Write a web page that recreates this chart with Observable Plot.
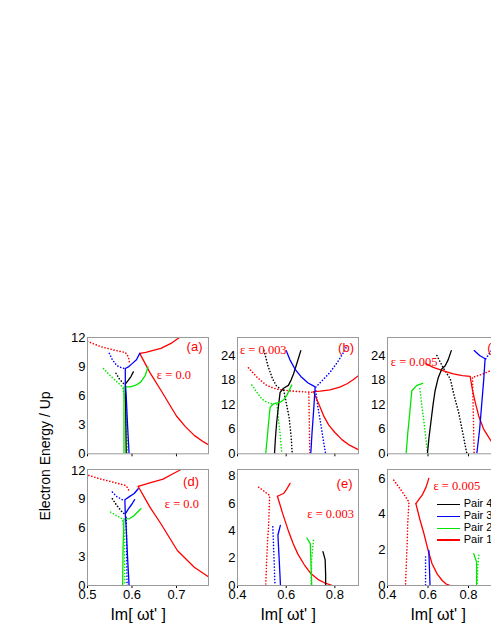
<!DOCTYPE html>
<html><head><meta charset="utf-8">
<script src="https://cdn.jsdelivr.net/npm/d3@7"></script>
<script src="https://cdn.jsdelivr.net/npm/@observablehq/plot@0.6"></script>
<style>
body{margin:0;background:#fff;}
#wrap{position:relative;width:491px;height:635px;overflow:hidden;font-family:"Liberation Sans",Arial,sans-serif;}
.panel{position:absolute;overflow:visible;}
.lbl{position:absolute;white-space:nowrap;color:#000;}
.leg{position:absolute;font-size:11px;white-space:nowrap;}
.leg span.ln{display:inline-block;width:23px;height:1.3px;vertical-align:middle;margin-right:4px;}
</style></head><body><div id="wrap"></div>
<script>
// ---- data ----
const pairs = ["Pair 4", "Pair 3", "Pair 2", "Pair 1"];
const pairColors = ["#000000", "#0000ff", "#00e600", "#ff0000"];
const panelTags = ["(a)", "(b)", "(c)", "(d)", "(e)", "(f)"];
const epsLabels = ["ε = 0.0", "ε = 0.003", "ε = 0.005", "ε = 0.0", "ε = 0.003", "ε = 0.005"];
const xLabel = "Im[ ωt' ]";
const yLabel = "Electron Energy / Up";

const xDomains = [[0.5, 0.772], [0.4, 0.897], [0.4, 0.9975]];
const xTicks = [[0.5, 0.6, 0.7], [0.4, 0.6, 0.8], [0.4, 0.6, 0.8, 1.0]];
const yDomains = [[0, 12], [0, 28.4], [0, 28.4], [0, 12.1], [0, 8.5], [0, 6.5]];
const yTicks = [[0, 3, 6, 9, 12], [0, 6, 12, 18, 24], [0, 6, 12, 18, 24], [0, 3, 6, 9, 12], [0, 2, 4, 6, 8], [0, 2, 4, 6]];

// each curve: [pair, style, points [x, y]]
const curvesA = [
  ["Pair 1", "solid", [[0.6175,10.36],[0.631,10.47],[0.665,10.88],[0.69,11.45],[0.705,11.95],[0.72,12.4]]],
  ["Pair 1", "solid", [[0.6175,10.36],[0.64,8.4],[0.665,6.56],[0.70,3.9],[0.72,2.8],[0.74,1.9],[0.76,1.25],[0.775,0.85]]],
  ["Pair 1", "dotted", [[0.5,11.6],[0.53,11.05],[0.56,10.7],[0.585,10.45],[0.592,10.0],[0.594,9.5]]],
  ["Pair 4", "solid", [[0.587,0],[0.586,4],[0.585,7.2],[0.592,7.6],[0.598,8.0],[0.603,8.45]]],
  ["Pair 4", "dotted", [[0.564,8.3],[0.572,7.7],[0.58,7.3],[0.585,7.1]]],
  ["Pair 2", "solid", [[0.582,0],[0.582,4],[0.582,6.9],[0.597,6.9],[0.61,7.1],[0.62,7.42],[0.63,8.1],[0.636,8.97]]],
  ["Pair 2", "dotted", [[0.536,8.8],[0.548,8.2],[0.562,7.6],[0.579,6.9],[0.587,5],[0.589,2],[0.59,0]]],
  ["Pair 3", "solid", [[0.5935,0],[0.59,3],[0.587,6],[0.585,7.3],[0.585,8.8],[0.593,9.0],[0.601,9.33],[0.61,9.7],[0.6175,10.36]]],
  ["Pair 3", "dotted", [[0.549,10.36],[0.556,9.7],[0.566,9.1],[0.578,8.85],[0.585,8.8]]]
];
const curvesB = [
  ["Pair 1", "solid", [[0.712,15.2],[0.74,15.3],[0.78,15.6],[0.82,16.3],[0.85,17.1],[0.875,18.1],[0.897,19.1]]],
  ["Pair 1", "solid", [[0.712,15.2],[0.725,13.4],[0.739,11.4],[0.756,9.0],[0.775,7.0],[0.8,5.2],[0.83,3.4],[0.86,2.1],[0.897,1.0]]],
  ["Pair 1", "dotted", [[0.445,21.0],[0.48,18.7],[0.52,16.7],[0.56,15.8],[0.602,15.45],[0.65,15.2],[0.709,15.0]]],
  ["Pair 1", "dotted", [[0.693,14.6],[0.695,7],[0.697,0]]],
  ["Pair 4", "solid", [[0.552,0],[0.556,4],[0.561,7.7],[0.568,11.5],[0.575,15.0],[0.589,16.0],[0.609,16.7],[0.62,18.0],[0.63,19.5],[0.645,22.3],[0.66,25.2]]],
  ["Pair 4", "dotted", [[0.509,25.2],[0.525,21.5],[0.544,18.3],[0.56,16.6],[0.575,15.9]]],
  ["Pair 4", "dotted", [[0.59,15.5],[0.6,12.5],[0.612,8.9],[0.62,4.5],[0.625,0]]],
  ["Pair 2", "solid", [[0.516,0],[0.523,4.5],[0.53,9],[0.534,11.4],[0.548,12.2],[0.575,12.6],[0.59,13.2],[0.602,14.2],[0.623,16.8]]],
  ["Pair 2", "dotted", [[0.459,16.8],[0.48,15.0],[0.5,13.4],[0.52,12.6],[0.541,12.2]]],
  ["Pair 2", "dotted", [[0.562,12.0],[0.568,8.5],[0.575,5],[0.582,0]]],
  ["Pair 3", "solid", [[0.6,25.2],[0.615,23.0],[0.636,20.7],[0.66,18.9],[0.69,17.3],[0.712,16.6],[0.719,16.25],[0.712,10],[0.706,5],[0.701,0]]],
  ["Pair 3", "dotted", [[0.722,16.3],[0.75,18.0],[0.78,19.9],[0.81,22.3],[0.84,25.2],[0.85,26.5]]],
  ["Pair 3", "dotted", [[0.722,15.3],[0.73,11.5],[0.742,7.3],[0.752,3.5],[0.762,0]]]
];
const curvesC = [
  ["Pair 1", "solid", [[0.589,22.0],[0.626,21.1],[0.68,20.2],[0.725,19.5],[0.77,19.1],[0.808,18.9],[0.82,15.5],[0.833,12.6],[0.85,9.3],[0.874,6.1],[0.9,4.0],[0.916,2.8],[0.95,1.3]]],
  ["Pair 1", "dotted", [[0.82,18.5],[0.824,9],[0.828,0]]],
  ["Pair 1", "dotted", [[0.83,18.8],[0.87,19.5],[0.92,20.5]]],
  ["Pair 4", "solid", [[0.597,0],[0.605,4],[0.615,8],[0.625,12],[0.635,15.4],[0.65,18.5],[0.668,20.7],[0.685,21.5],[0.7,23],[0.715,25.2]]],
  ["Pair 4", "dotted", [[0.644,24.0],[0.675,21],[0.71,18.3],[0.73,14],[0.751,10.2],[0.77,5.5],[0.792,0]]],
  ["Pair 2", "solid", [[0.492,0],[0.5,5],[0.51,10],[0.52,15.4],[0.545,16.7],[0.574,17.2]]],
  ["Pair 2", "dotted", [[0.56,15.9],[0.57,11.5],[0.58,7.7],[0.59,3.5],[0.598,0]]],
  ["Pair 3", "solid", [[0.828,25.2],[0.855,24.0],[0.882,23.2],[0.875,18],[0.866,12.6],[0.855,6],[0.841,0]]],
  ["Pair 3", "dotted", [[0.885,23.2],[0.91,25],[0.93,27]]]
];
const curvesD = [
  ["Pair 1", "solid", [[0.614,10.33],[0.64,10.7],[0.67,11.1],[0.69,11.6],[0.706,12.0],[0.72,12.4]]],
  ["Pair 1", "solid", [[0.614,10.33],[0.64,8.2],[0.665,6.44],[0.702,3.65],[0.74,1.9],[0.775,0.8]]],
  ["Pair 1", "dotted", [[0.503,11.48],[0.53,11.1],[0.56,10.75],[0.585,10.45],[0.59,10.2],[0.593,9.9]]],
  ["Pair 4", "dotted", [[0.556,9.05],[0.565,8.4],[0.578,7.65],[0.584,7.45]]],
  ["Pair 2", "solid", [[0.579,0],[0.58,4],[0.582,6.96],[0.595,6.98],[0.605,7.3],[0.62,8.0]]],
  ["Pair 2", "dotted", [[0.552,7.65],[0.565,7.3],[0.578,6.96],[0.583,5.6],[0.584,0]]],
  ["Pair 3", "solid", [[0.5935,0],[0.59,3],[0.587,6],[0.585,7.4],[0.584,8.95],[0.595,9.3],[0.605,9.6],[0.614,10.09]]],
  ["Pair 3", "solid", [[0.585,7.48],[0.592,8.0],[0.6,8.5],[0.606,8.95]]],
  ["Pair 3", "dotted", [[0.556,9.74],[0.565,9.3],[0.578,8.95],[0.584,8.9]]],
  ["Pair 3", "dotted", [[0.589,0],[0.588,4],[0.587,7.2]]]
];
const curvesE = [
  ["Pair 1", "solid", [[0.564,6.54],[0.589,6.74],[0.6,7.0],[0.616,7.48]]],
  ["Pair 1", "solid", [[0.564,6.54],[0.585,5.3],[0.61,3.95],[0.628,3.1],[0.648,2.3],[0.675,1.5],[0.70,0.9],[0.73,0.45],[0.757,0.2],[0.79,0]]],
  ["Pair 1", "dotted", [[0.487,7.2],[0.51,6.9],[0.532,6.6],[0.528,4.5],[0.523,3.1],[0.519,1.5],[0.516,0]]],
  ["Pair 3", "solid", [[0.5765,0],[0.571,2],[0.566,3.7],[0.571,4.05],[0.576,4.4]]],
  ["Pair 3", "dotted", [[0.545,4.3],[0.55,2],[0.554,0]]],
  ["Pair 2", "solid", [[0.685,3.48],[0.699,3.07],[0.702,1.5],[0.705,0]]],
  ["Pair 2", "dotted", [[0.712,3.3],[0.705,2],[0.702,0]]],
  ["Pair 4", "solid", [[0.751,2.48],[0.76,1.9],[0.762,0.8],[0.762,0]]]
];
const curvesF = [
  ["Pair 1", "solid", [[0.54,4.59],[0.571,5.06],[0.59,5.5],[0.604,6.0]]],
  ["Pair 1", "solid", [[0.54,4.59],[0.56,3.7],[0.58,2.9],[0.6,2.0],[0.62,1.22],[0.645,0.65],[0.67,0.28],[0.69,0.08],[0.711,0]]],
  ["Pair 1", "dotted", [[0.431,5.9],[0.47,5.3],[0.506,4.68],[0.5,3.5],[0.497,2.34],[0.493,1.2],[0.489,0]]],
  ["Pair 3", "solid", [[0.604,1.97],[0.607,1.0],[0.61,0]]],
  ["Pair 3", "dotted", [[0.588,1.6],[0.588,0.8],[0.588,0]]],
  ["Pair 2", "solid", [[0.826,1.78],[0.84,1.31],[0.84,0.6],[0.84,0]]],
  ["Pair 2", "dotted", [[0.851,1.69],[0.845,1.0],[0.843,0]]]
];
const allCurves = [curvesA, curvesB, curvesC, curvesD, curvesE, curvesF];

// ---- layout ----
const frameLefts = [86.7, 236.7, 386.7];
const frameTops = [337, 469];
const frameHeights = [116.3, 116];
const FW = 121, ML = 30, MR = 1, MT = 1;
// label placements relative to the frame: [anchor, dx, dy]
const tagPos = [["top-right",-6,9],["top-right",-4.5,10],["top-right",-6,10],["top-right",-9.5,12],["top-right",-6,14],["top-right",-3,13]];
const epsPos = [["top-right",-17.5,38],["top-left",2.5,13],["top-left",3.3,25],["top-right",-9.5,34.5],["top-right",-4.5,44],["top-left",46,16]];

const wrap = document.getElementById("wrap");
const red = pairColors[pairs.indexOf("Pair 1")];

allCurves.forEach((curves, i) => {
  const col = i % 3, row = Math.floor(i / 3);
  const bottom = row === 1;
  const MB = bottom ? 22 : 6;
  const FH = frameHeights[row];
  const rows = curves.flatMap(([pair, style, pts], k) =>
    pts.map(([x, y]) => ({id: k, pair, style, x, y})));
  const [ta, tdx, tdy] = tagPos[i];
  const [ea, edx, edy] = epsPos[i];
  const plot = Plot.plot({
    width: ML + FW + MR,
    height: MT + FH + MB,
    marginLeft: ML, marginRight: MR, marginTop: MT, marginBottom: MB,
    style: {fontFamily: "'Liberation Sans', Arial, sans-serif", fontSize: "13px", background: "transparent", color: "#000", overflow: "visible"},
    x: {domain: xDomains[col], ticks: xTicks[col], tickSize: 3, tickPadding: 1,
        tickFormat: bottom ? d3.format(".1f") : () => "", label: null},
    y: {domain: yDomains[i], ticks: yTicks[i], tickSize: 0, tickPadding: 2, tickFormat: d => String(d), label: null},
    color: {domain: pairs, range: pairColors},
    marks: [
      Plot.line(rows, {filter: d => d.style === "dotted", x: "x", y: "y", z: "id", stroke: "pair",
        strokeWidth: 1.6, strokeDasharray: "0.1,3", strokeLinecap: "round", clip: true}),
      Plot.line(rows, {filter: d => d.style === "solid", x: "x", y: "y", z: "id", stroke: "pair",
        strokeWidth: 1.3, clip: true}),
      Plot.frame({stroke: "#9a9a9a"}),
      Plot.text([panelTags[i]], {text: d => d, frameAnchor: ta, dx: tdx, dy: tdy,
        textAnchor: ta.endsWith("right") ? "end" : "start", lineAnchor: "middle",
        fill: red, fontSize: 13, fontFamily: "'Liberation Sans', Arial, sans-serif"}),
      Plot.text([epsLabels[i]], {text: d => d, frameAnchor: ea, dx: edx, dy: edy,
        textAnchor: ea.endsWith("right") ? "end" : "start", lineAnchor: "middle",
        fill: red, fontSize: 12.5, fontFamily: "'Liberation Serif', 'Times New Roman', serif"})
    ]
  });
  plot.classList.add("panel");
  plot.style.left = (frameLefts[col] - ML) + "px";
  plot.style.top = (frameTops[row] - MT) + "px";
  wrap.appendChild(plot);
});

// x-axis titles under the bottom row
frameLefts.forEach(fl => {
  const d = document.createElement("div");
  d.className = "lbl";
  d.textContent = xLabel;
  d.style.fontSize = "16px";
  d.style.left = (fl + FW / 2 - 9) + "px";
  d.style.top = "615px";
  d.style.transform = "translate(-50%,-50%)";
  wrap.appendChild(d);
});

// y-axis title
const yl = document.createElement("div");
yl.className = "lbl";
yl.textContent = yLabel;
yl.style.fontSize = "14px";
yl.style.left = "45px";
yl.style.top = "456px";
yl.style.transform = "translate(-50%,-50%) rotate(-90deg)";
wrap.appendChild(yl);

// legend inside panel (f)
pairs.forEach((p, k) => {
  const d = document.createElement("div");
  d.className = "leg";
  d.style.left = "436.7px";
  d.style.top = (503.3 + k * 11.9) + "px";
  d.style.transform = "translateY(-50%)";
  d.innerHTML = `<span class="ln" style="background:${pairColors[k]}"></span>${p}`;
  wrap.appendChild(d);
});
</script></body></html>
